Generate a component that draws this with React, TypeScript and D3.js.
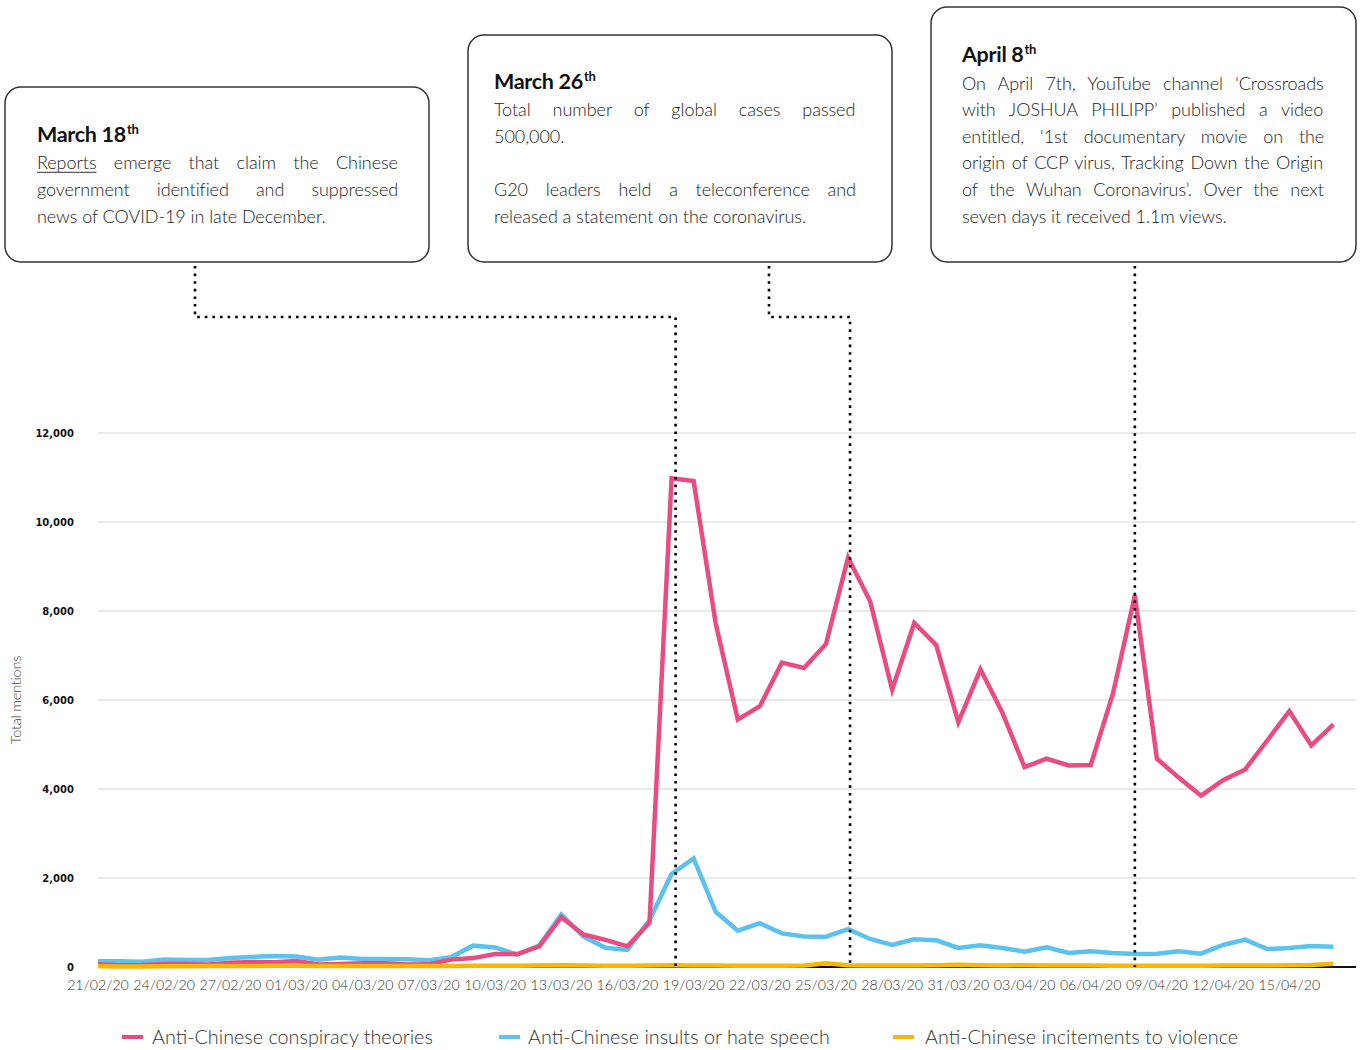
import React, { useMemo } from 'react';
import * as d3 from 'd3';

// ---------- DATA ----------
const startDay = '21/02/20';
const endDay = '17/04/20';

const conspiracy = [
  60, 40, 45, 68, 68, 55, 98, 113, 106, 136,
  55, 68, 83, 83, 55, 60, 166, 200, 290, 290,
  465, 1120, 730, 610, 465, 1000, 10980, 10920, 7720, 5560,
  5860, 6840, 6720, 7260, 9200, 8220, 6230, 7730, 7230, 5500,
  6690, 5710, 4490, 4680, 4530, 4540, 6130, 8350, 4680, 4250,
  3850, 4200, 4440, 5090, 5750, 4980, 5450,
];

const insults = [
  130, 128, 120, 166, 158, 158, 204, 226, 249, 234,
  166, 211, 181, 181, 174, 151, 219, 480, 440, 280,
  480, 1180, 690, 430, 385, 1050, 2090, 2440, 1240, 815,
  985, 755, 685, 680, 850, 630, 495, 622, 599, 427,
  487, 427, 345, 442, 315, 352, 315, 292, 300, 352,
  300, 494, 614, 404, 427, 472, 457,
];

const incitement = [
  15, 10, 12, 15, 18, 20, 22, 25, 28, 30,
  20, 22, 25, 25, 22, 20, 25, 30, 28, 30,
  35, 40, 32, 30, 28, 35, 40, 35, 32, 30,
  30, 28, 35, 85, 40, 35, 32, 35, 38, 50,
  38, 35, 40, 35, 35, 32, 30, 30, 30, 28,
  30, 32, 35, 35, 40, 45, 75,
];

const xTickLabels = [
  '21/02/20', '24/02/20', '27/02/20', '01/03/20', '04/03/20', '07/03/20', '10/03/20',
  '13/03/20', '16/03/20', '19/03/20', '22/03/20', '25/03/20', '28/03/20', '31/03/20',
  '03/04/20', '06/04/20', '09/04/20', '12/04/20', '15/04/20',
];

const yTicks = [0, 2000, 4000, 6000, 8000, 10000, 12000];

const seriesNames = [
  'Anti-Chinese conspiracy theories',
  'Anti-Chinese insults or hate speech',
  'Anti-Chinese incitements to violence',
];

const annotationTitles = ['March 18', 'March 26', 'April 8'];
const annotationDates = ['18/03/20', '26/03/20', '08/04/20'];
const annotationLines: string[][] = [
  [
    'Reports emerge that claim the Chinese',
    'government identified and suppressed',
    'news of COVID-19 in late December.',
  ],
  [
    'Total number of global cases passed',
    '500,000.',
    '',
    'G20 leaders held a teleconference and',
    'released a statement on the coronavirus.',
  ],
  [
    'On April 7th, YouTube channel \u2018Crossroads',
    'with JOSHUA PHILIPP\u2019 published a video',
    'entitled, \u20181st documentary movie on the',
    'origin of CCP virus, Tracking Down the Origin',
    'of the Wuhan Coronavirus\u2019. Over the next',
    'seven days it received 1.1m views.',
  ],
];
// which lines are justified (all but paragraph ends)
const justifiedFlags: boolean[][] = [
  [true, true, false],
  [true, false, false, true, false],
  [true, true, true, true, true, false],
];

// ---------- STYLE / LAYOUT ----------
const W = 1361;
const H = 1050;
const colors = ['#EA4C80', '#5BC2EE', '#F6B800'];
const FAMILY = 'Lato';

const plot = { left: 98, right: 1356, top: 433, bottom: 967, lastX: 1333.4 };

const boxLayout = [
  { x: 5, y: 87, w: 424, textX: 37, textW: 361, anchorX: 195, elbowY: 317, dx: 4 },
  { x: 468, y: 35, w: 424, textX: 494, textW: 362, anchorX: 769, elbowY: 317, dx: 2 },
  { x: 931, y: 7, w: 425, textX: 962, textW: 363, anchorX: 1135, elbowY: 317, dx: 0 },
];
const BOX_BOTTOM = 262;
const LINE_H = 26.6;
const LAST_BASELINE = 222.5;
const BODY_SIZE = 18;
const REF_LINE = 'news of COVID-19 in late December.';
const REF_WIDTH = 289;

const parse = d3.utcParse('%d/%m/%y');

let ctx: CanvasRenderingContext2D | null = null;
function measure(text: string, font: string): number {
  if (!ctx) ctx = document.createElement('canvas').getContext('2d');
  if (!ctx) return text.length * 8;
  ctx.font = font;
  return ctx.measureText(text).width;
}

export default function App() {
  const dates = useMemo(() => d3.utcDay.range(parse(startDay)!, d3.utcDay.offset(parse(endDay)!, 1)), []);

  const x = d3.scaleUtc().domain([dates[0], dates[dates.length - 1]]).range([plot.left, plot.lastX]);
  const y = d3.scaleLinear().domain([0, 12000]).range([plot.bottom, plot.top]);

  const line = d3
    .line<number>()
    .x((_, i) => x(dates[i]))
    .y((d) => y(d));

  const series = [insults, conspiracy, incitement];
  const seriesColorOrder = [colors[1], colors[0], colors[2]];

  const bodyFont = `300 ${BODY_SIZE}px ${FAMILY}`;
  const letterSp = useMemo(() => {
    const w = measure(REF_LINE, bodyFont);
    const ls = (REF_WIDTH - w) / (REF_LINE.length - 1);
    return Math.max(-1.2, Math.min(0.5, ls));
  }, []);
  const widthWithLs = (t: string) => measure(t, bodyFont) + letterSp * (t.length - 1);

  const dotted = { stroke: '#000', strokeWidth: 2.6, strokeDasharray: '2.6 5', fill: 'none' };

  return (
    <svg
      width={W}
      height={H}
      viewBox={`0 0 ${W} ${H}`}
      style={{ position: 'absolute', left: 0, top: 0, display: 'block', background: '#fff' }}
      fontFamily={FAMILY}
    >
      {/* gridlines */}
      {yTicks.map((t) => (
        <line key={t} x1={plot.left} x2={plot.right} y1={y(t)} y2={y(t)} stroke="#d4d4d4" strokeWidth={1.2} />
      ))}
      {/* baseline */}
      <line x1={plot.left} x2={plot.right} y1={y(0)} y2={y(0)} stroke="#111" strokeWidth={2} />

      {/* y tick labels */}
      {yTicks.map((t) => (
        <text
          key={'yl' + t}
          x={74}
          y={y(t) + 4}
          textAnchor="end"
          fontFamily="'DejaVu Sans', Verdana, sans-serif"
          fontWeight={700}
          fontSize={10}
          fill="#111"
        >
          {d3.format(',')(t)}
        </text>
      ))}
      <text
        transform={`translate(21,${(y(4000) + y(8000)) / 2}) rotate(-90)`}
        textAnchor="middle"
        fontWeight={300}
        fontSize={14.5}
        fill="#444"
        letterSpacing={-0.2}
      >
        Total mentions
      </text>

      {/* x tick labels */}
      {xTickLabels.map((l) => (
        <text key={l} x={x(parse(l)!)} y={990} textAnchor="middle" fontWeight={300} fontSize={14.2} fill="#333">
          {l}
        </text>
      ))}

      {/* series lines */}
      {series.map((s, i) => (
        <path
          key={i}
          d={line(s) || ''}
          fill="none"
          stroke={seriesColorOrder[i]}
          strokeWidth={4.5}
          strokeLinejoin="miter"
          strokeLinecap="butt"
        />
      ))}

      {/* annotations */}
      {annotationTitles.map((title, ai) => {
        const b = boxLayout[ai];
        const lines = annotationLines[ai];
        const firstBaseline = LAST_BASELINE - (lines.length - 1) * LINE_H;
        const titleBaseline = firstBaseline - LINE_H - 1;
        const targetX = x(parse(annotationDates[ai])!) + b.dx;
        const path =
          Math.abs(b.anchorX - targetX) < 1
            ? `M${targetX},${BOX_BOTTOM + 4}V${plot.bottom}`
            : `M${b.anchorX},${BOX_BOTTOM + 4}V${b.elbowY}H${targetX}V${plot.bottom}`;
        return (
          <g key={ai}>
            <rect
              x={b.x}
              y={b.y}
              width={b.w}
              height={BOX_BOTTOM - b.y}
              rx={16}
              ry={16}
              fill="#fff"
              stroke="#333"
              strokeWidth={1.5}
            />
            <text x={b.textX} y={titleBaseline} fontWeight={700} fontSize={21.5} fill="#111" letterSpacing={-0.3}>
              {title}
              <tspan fontSize={13} dy={-8} dx={1}>
                th
              </tspan>
            </text>
            {lines.map((l, li) => {
              if (!l) return null;
              const by = firstBaseline + li * LINE_H;
              const justify = justifiedFlags[ai][li];
              let ws = 0;
              if (justify) {
                const spaces = (l.match(/ /g) || []).length;
                ws = spaces > 0 ? (b.textW - widthWithLs(l)) / spaces : 0;
              }
              const underlineWord = ai === 0 && li === 0 ? 'Reports' : null;
              return (
                <g key={li}>
                  <text
                    x={b.textX}
                    y={by}
                    fontWeight={300}
                    fontSize={BODY_SIZE}
                    fill="#222"
                    letterSpacing={letterSp}
                    style={{ wordSpacing: `${ws}px` }}
                  >
                    {l}
                  </text>
                  {underlineWord && (
                    <line
                      x1={b.textX}
                      x2={b.textX + widthWithLs(underlineWord)}
                      y1={by + 3}
                      y2={by + 3}
                      stroke="#333"
                      strokeWidth={1}
                    />
                  )}
                </g>
              );
            })}
            <path d={path} {...dotted} />
          </g>
        );
      })}

      {/* legend */}
      {seriesNames.map((n, i) => {
        const lx = [122, 499, 893][i];
        const tx = [152, 528, 925][i];
        return (
          <g key={n}>
            <line x1={lx} x2={lx + 21} y1={1037} y2={1037} stroke={colors[i]} strokeWidth={4} />
            <text x={tx} y={1044} fontWeight={300} fontSize={19.8} fill="#333">
              {n}
            </text>
          </g>
        );
      })}
    </svg>
  );
}
